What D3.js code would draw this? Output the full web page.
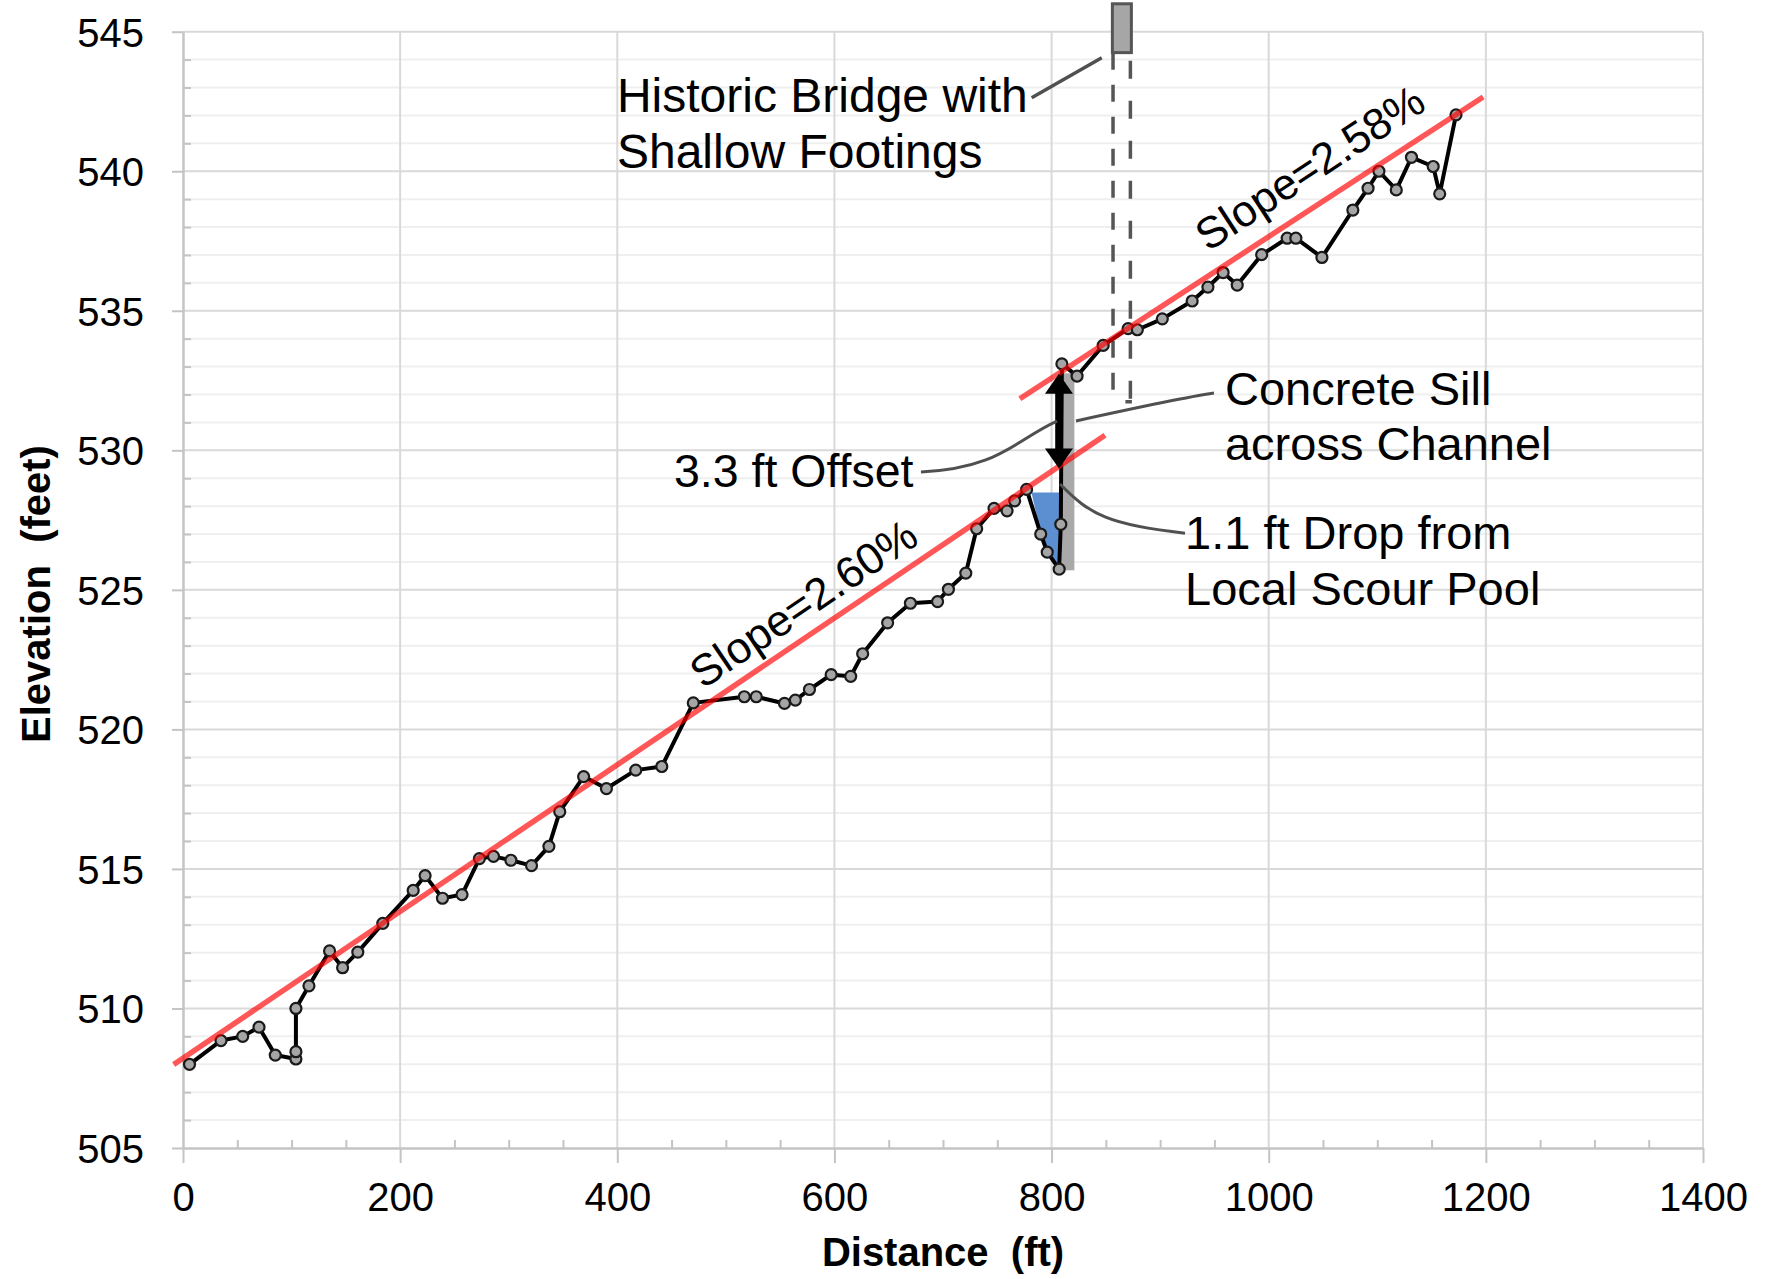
<!DOCTYPE html>
<html><head><meta charset="utf-8">
<script src="https://cdn.jsdelivr.net/npm/d3@7"></script>
<style>
body{margin:0;background:#fff}
svg{display:block}
text{font-family:"Liberation Sans",Arial,sans-serif;fill:#000}
</style>
</head><body>
<svg id="chart" width="1768" height="1279"></svg>
<script>
// ---- data ----
const distance = [6,35,55,70,85,104,104,104,116,135,147,161,184,212,223,239,257,273,286,302,321,337,347,369,390,417,441,470,517,528,554,564,577,597,615,626,649,670,695,705,721,731,747,759,766,777,790,796,807,808.5,809.5,823.5,847.5,870.5,879,902,929.5,944,958,971,993.5,1017,1025,1049,1077.5,1091.5,1101.5,1117.5,1131.5,1151.5,1157.5,1172.5];
const elevation = [508.0,508.85,509.0,509.33,508.33,508.19,508.45,510.0,510.81,512.06,511.46,512.02,513.05,514.23,514.76,513.95,514.08,515.37,515.45,515.31,515.12,515.81,517.05,518.31,517.88,518.54,518.67,520.95,521.17,521.17,520.93,521.05,521.43,521.96,521.90,522.71,523.82,524.52,524.58,525.02,525.60,527.19,527.92,527.83,528.19,528.60,527.00,526.35,525.74,527.35,533.10,532.66,533.76,534.36,534.32,534.71,535.35,535.85,536.37,535.92,537.01,537.60,537.60,536.91,538.61,539.39,540.00,539.33,540.50,540.17,539.19,542.02];

const xTicks = [0,200,400,600,800,1000,1200,1400];
const yTicks = [505,510,515,520,525,530,535,540,545];

// trend lines (endpoints)
const trendLowerX = [-8.6, 849.2];
const trendLowerY = [507.99, 530.54];
const trendUpperX = [770.8, 1197.5];
const trendUpperY = [531.85, 542.66];
const slopeLabels = ["Slope=2.60%", "Slope=2.58%"];

// scour pool fill
const poolX = [781.5, 790, 796, 807, 808];
const poolY = [528.49, 527.0, 526.35, 525.74, 528.49];

// concrete sill bar
const sillX = [809, 821];
const sillY = [525.7, 532.76];

// offset arrow
const arrowX = 806.8;
const arrowY = [529.35, 532.74];

// bridge
const bridgeX = [856, 873.5];
const bridgeY = [544.25, 546.0];
const footingX = [856.6, 872.6];
const footingBottom = [531.92, 531.74];

// ---- layout ----
const W = 1768, H = 1279;
const L = 183, R = 1703, T = 31.7, B = 1148;
const svg = d3.select("#chart");
svg.append("rect").attr("width",W).attr("height",H).attr("fill","#fff");

const x = d3.scaleLinear().domain([0,1400]).range([L,R]);
const y = d3.scaleLinear().domain([505,545]).range([B,T]);

// grid
const g = svg.append("g");
const yMinor = d3.range(506,545).filter(v => v % 5 !== 0);
const xMinor = d3.range(50,1400,50).filter(v => v % 200 !== 0);
g.selectAll(".ymin").data(yMinor).join("line")
  .attr("x1",L).attr("x2",R).attr("y1",d=>y(d)).attr("y2",d=>y(d))
  .attr("stroke","#efefef").attr("stroke-width",2);
g.selectAll(".ymaj").data(yTicks.slice(1)).join("line")
  .attr("x1",L).attr("x2",R).attr("y1",d=>y(d)).attr("y2",d=>y(d))
  .attr("stroke","#d9d9d9").attr("stroke-width",2);
g.selectAll(".xmaj").data(xTicks.slice(1)).join("line")
  .attr("y1",T).attr("y2",B).attr("x1",d=>x(d)).attr("x2",d=>x(d))
  .attr("stroke","#d9d9d9").attr("stroke-width",2);

// axes
const axisColor = "#c4c4c4";
function styleAxis(sel){
  sel.selectAll(".domain").attr("stroke",axisColor).attr("stroke-width",2.5);
  sel.selectAll(".tick line").attr("stroke",axisColor).attr("stroke-width",2);
  sel.selectAll(".tick text").attr("font-size",40).attr("fill","#000")
     .style("font-family",'"Liberation Sans",Arial,sans-serif');
}
const gyMinor = svg.append("g").attr("transform",`translate(${L},0)`)
  .call(d3.axisRight(y).tickValues(yMinor).tickSize(8).tickSizeOuter(0).tickFormat(""));
styleAxis(gyMinor); gyMinor.select(".domain").remove();
const gxMinor = svg.append("g").attr("transform",`translate(0,${B})`)
  .call(d3.axisTop(x).tickValues(xMinor).tickSize(8).tickSizeOuter(0).tickFormat(""));
styleAxis(gxMinor); gxMinor.select(".domain").remove();

const gy = svg.append("g").attr("transform",`translate(${L},0)`)
  .call(d3.axisLeft(y).tickValues(yTicks).tickSize(11).tickSizeOuter(0).tickPadding(28).tickFormat(d3.format("d")));
styleAxis(gy);
gy.selectAll(".tick text").attr("dy","0.36em");
const gx = svg.append("g").attr("transform",`translate(0,${B})`)
  .call(d3.axisBottom(x).tickValues(xTicks).tickSize(15).tickSizeOuter(0).tickPadding(20).tickFormat(d3.format("d")));
styleAxis(gx);

// axis titles
svg.append("text").attr("transform","translate(50,594) rotate(-90)")
  .attr("text-anchor","middle").attr("font-size",40).attr("font-weight","bold")
  .style("white-space","pre").text("Elevation  (feet)");
svg.append("text").attr("x",(L+R)/2).attr("y",1266)
  .attr("text-anchor","middle").attr("font-size",40).attr("font-weight","bold")
  .style("white-space","pre").text("Distance  (ft)");

// scour pool fill
svg.append("path")
  .attr("d", d3.line()(poolX.map((d,i)=>[x(d), y(poolY[i])])) + "Z")
  .attr("fill","#5b8fd1");

// concrete sill
svg.append("rect")
  .attr("x",x(sillX[0])).attr("width",x(sillX[1])-x(sillX[0]))
  .attr("y",y(sillY[1])).attr("height",y(sillY[0])-y(sillY[1]))
  .attr("fill","#a9a9a9");

// bridge footings (dashed)
const dashCol = "#555";
svg.append("line").attr("x1",x(footingX[0])).attr("x2",x(footingX[0]))
  .attr("y1",y(bridgeY[0])).attr("y2",y(footingBottom[0]))
  .attr("stroke",dashCol).attr("stroke-width",3.5).attr("stroke-dasharray","17,15");
svg.append("line").attr("x1",x(footingX[1])).attr("x2",x(footingX[1]))
  .attr("y1",y(bridgeY[0])).attr("y2",y(footingBottom[1]))
  .attr("stroke",dashCol).attr("stroke-width",3.5).attr("stroke-dasharray","0,8,18,14");
svg.append("line").attr("x1",x(footingX[1])-5).attr("x2",x(footingX[1])+1.5)
  .attr("y1",y(footingBottom[1])).attr("y2",y(footingBottom[1]))
  .attr("stroke",dashCol).attr("stroke-width",3.5);
// bridge deck
svg.append("rect")
  .attr("x",x(bridgeX[0])).attr("width",x(bridgeX[1])-x(bridgeX[0]))
  .attr("y",y(bridgeY[1])).attr("height",y(bridgeY[0])-y(bridgeY[1]))
  .attr("fill","#a6a6a6").attr("stroke","#555").attr("stroke-width",3);

// profile line + points
const pts = distance.map((d,i)=>[d, elevation[i]]);
svg.append("path")
  .attr("d", d3.line().x(d=>x(d[0])).y(d=>y(d[1]))(pts))
  .attr("fill","none").attr("stroke","#000").attr("stroke-width",4)
  .attr("stroke-linejoin","round");
svg.selectAll(".pt").data(pts).join("circle")
  .attr("cx",d=>x(d[0])).attr("cy",d=>y(d[1])).attr("r",5.5)
  .attr("fill","#a5a5a5").attr("stroke","#1a1a1a").attr("stroke-width",2.2);

// trend lines
[[trendLowerX,trendLowerY],[trendUpperX,trendUpperY]].forEach(([tx,ty])=>{
  svg.append("line")
    .attr("x1",x(tx[0])).attr("y1",y(ty[0])).attr("x2",x(tx[1])).attr("y2",y(ty[1]))
    .attr("stroke","#ff0000").attr("stroke-opacity",0.66).attr("stroke-width",5.5);
});

// slope labels
function angleOf(tx,ty){
  return Math.atan2(y(ty[1])-y(ty[0]), x(tx[1])-x(tx[0]))*180/Math.PI;
}
const slopePos = [[479,521.42],[944,537.1]];
[[trendLowerX,trendLowerY],[trendUpperX,trendUpperY]].forEach(([tx,ty],i)=>{
  svg.append("text")
    .attr("transform",`translate(${x(slopePos[i][0])},${y(slopePos[i][1])}) rotate(${angleOf(tx,ty)})`)
    .attr("font-size",44).text(slopeLabels[i]);
});

// offset arrow
{
  const ax = x(arrowX), yb = y(arrowY[0]), yt = y(arrowY[1]);
  const hl = 20, hw = 14;
  svg.append("line").attr("x1",ax).attr("x2",ax).attr("y1",yt+hl-2).attr("y2",yb-hl+2)
    .attr("stroke","#000").attr("stroke-width",7.5);
  svg.append("path").attr("d",`M${ax},${yt} L${ax+hw},${yt+hl} L${ax-hw},${yt+hl} Z`).attr("fill","#000");
  svg.append("path").attr("d",`M${ax},${yb} L${ax+hw},${yb-hl} L${ax-hw},${yb-hl} Z`).attr("fill","#000");
}

// leader lines
const leadCol = "#505050";
function P(a){ return `${x(a[0])},${y(a[1])}`; }
svg.append("path").attr("d",`M${P([679.7,529.22])} C${P([752.5,529.36])} ${P([766.3,530.37])} ${P([805.0,531.05])}`)
  .attr("fill","none").attr("stroke",leadCol).attr("stroke-width",3);
svg.append("path").attr("d",`M${P([822.5,531.05])} Q${P([918.3,531.87])} ${P([949.6,532.05])}`)
  .attr("fill","none").attr("stroke",leadCol).attr("stroke-width",3);
svg.append("path").attr("d",`M${P([807.8,528.79])} C${P([835.4,527.68])} ${P([853.8,527.32])} ${P([922.9,527.03])}`)
  .attr("fill","none").attr("stroke",leadCol).attr("stroke-width",3);
svg.append("path").attr("d",`M${P([781.7,542.63])} L${P([846.2,544.07])}`)
  .attr("fill","none").attr("stroke",leadCol).attr("stroke-width",3.5);

// annotation texts
const notes = [
  {t:"Historic Bridge with", x:399.7, y:542.13, s:48},
  {t:"Shallow Footings", x:399.7, y:540.10, s:48},
  {t:"3.3 ft Offset", x:452.2, y:528.68, s:46.5},
  {t:"Concrete Sill", x:959.7, y:531.62, s:47},
  {t:"across Channel", x:959.7, y:529.65, s:47},
  {t:"1.1 ft Drop from", x:922.9, y:526.48, s:47},
  {t:"Local Scour Pool", x:922.9, y:524.45, s:47}
];
svg.selectAll(".note").data(notes).join("text")
  .attr("x",d=>x(d.x)).attr("y",d=>y(d.y)).attr("font-size",d=>d.s).text(d=>d.t);
</script>
</body></html>
